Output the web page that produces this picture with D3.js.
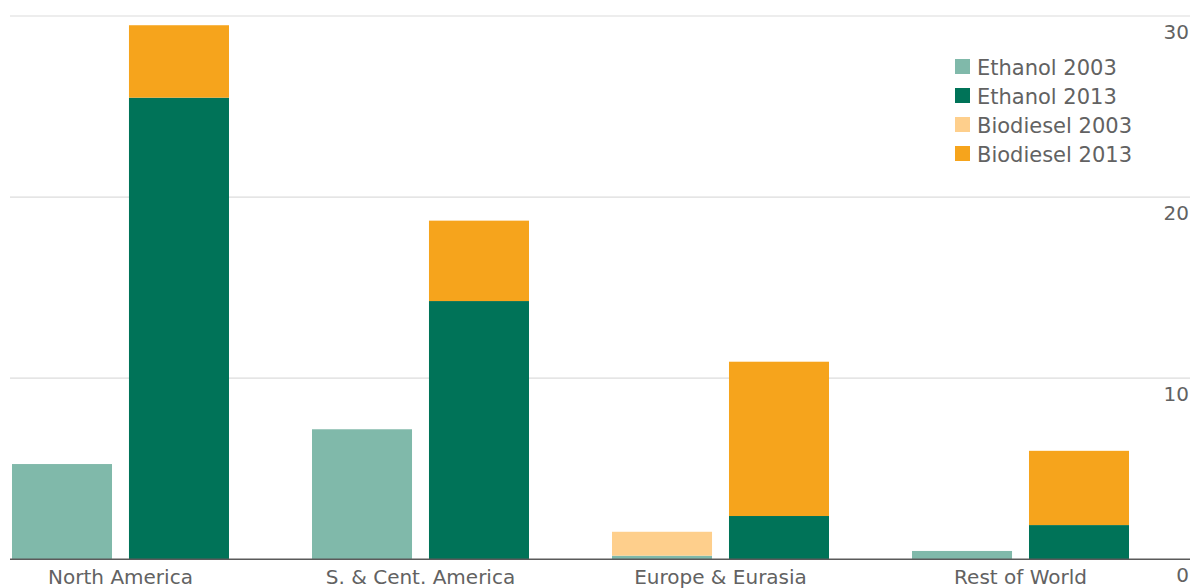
<!DOCTYPE html>
<html>
<head>
<meta charset="utf-8">
<script src="https://cdn.jsdelivr.net/npm/d3@7"></script>
<style>
  html, body { margin: 0; padding: 0; background: #ffffff; }
  svg { display: block; }
  text { font-family: "DejaVu Sans", sans-serif; fill: #626262; }
</style>
</head>
<body>
<svg id="chart" width="1199" height="588"></svg>
<script>
// Biofuel production by region (million tonnes oil equivalent)
const regions = ["North America", "S. & Cent. America", "Europe & Eurasia", "Rest of World"];
const years = ["2003", "2013"];
const ethanol2003 = [5.26, 7.18, 0.2, 0.46];
const ethanol2013 = [25.49, 14.26, 2.39, 1.89];
const biodiesel2003 = [0, 0, 1.32, 0];
const biodiesel2013 = [4.0, 4.44, 8.52, 4.1];
const yTicks = [0, 10, 20, 30];
const legendLabels = ["Ethanol 2003", "Ethanol 2013", "Biodiesel 2003", "Biodiesel 2013"];

const colors = {
  ethanol2003: "#80b9aa",
  ethanol2013: "#007358",
  biodiesel2003: "#fecf8c",
  biodiesel2013: "#f6a41c"
};

const svg = d3.select("#chart");
const gridLeft = 10, gridRight = 1190;

const y = d3.scaleLinear().domain([0, 30]).range([559.3, 16]);

const x0 = d3.scaleBand()
  .domain(regions)
  .range([-29.5, 1170.5])
  .paddingInner(0.2767)
  .paddingOuter(0.1383);

const x1 = d3.scaleBand()
  .domain(years)
  .range([0, x0.bandwidth()])
  .paddingInner(0.145);

// Horizontal gridlines
svg.append("g")
  .selectAll("line")
  .data(yTicks.filter(d => d > 0))
  .join("line")
  .attr("x1", gridLeft).attr("x2", gridRight)
  .attr("y1", d => y(d)).attr("y2", d => y(d))
  .attr("stroke", "#dcdcdc")
  .attr("stroke-width", 1.2);

// Value labels sit just under each gridline, right-aligned
svg.append("g")
  .selectAll("text")
  .data(yTicks)
  .join("text")
  .attr("x", 1189)
  .attr("y", d => y(d) + 23)
  .attr("text-anchor", "end")
  .attr("font-size", 20)
  .text(d => d);

// Stacked bars: ethanol at the bottom, biodiesel on top
const rows = [];
regions.forEach((r, i) => {
  rows.push({ region: r, year: "2003", ethanol: ethanol2003[i], biodiesel: biodiesel2003[i],
              cE: colors.ethanol2003, cB: colors.biodiesel2003 });
  rows.push({ region: r, year: "2013", ethanol: ethanol2013[i], biodiesel: biodiesel2013[i],
              cE: colors.ethanol2013, cB: colors.biodiesel2013 });
});

const bars = svg.append("g")
  .selectAll("g")
  .data(rows)
  .join("g")
  .attr("transform", d => `translate(${x0(d.region) + x1(d.year)},0)`);

bars.append("rect")
  .attr("x", 0)
  .attr("width", x1.bandwidth())
  .attr("y", d => y(d.ethanol))
  .attr("height", d => y(0) - y(d.ethanol))
  .attr("fill", d => d.cE);

bars.append("rect")
  .attr("x", 0)
  .attr("width", x1.bandwidth())
  .attr("y", d => y(d.ethanol + d.biodiesel))
  .attr("height", d => y(d.ethanol) - y(d.ethanol + d.biodiesel))
  .attr("fill", d => d.cB);

// Baseline
svg.append("line")
  .attr("x1", gridLeft).attr("x2", gridRight)
  .attr("y1", y(0)).attr("y2", y(0))
  .attr("stroke", "#5a5a5a")
  .attr("stroke-width", 1.6);

// Region labels
const xAxis = svg.append("g")
  .attr("transform", `translate(0,${y(0)})`)
  .call(d3.axisBottom(x0).tickSize(0).tickPadding(0));
xAxis.select(".domain").remove();
xAxis.selectAll("text")
  .attr("y", 25)
  .attr("dy", 0)
  .attr("font-size", 20)
  .style("font-family", "'DejaVu Sans', sans-serif")
  .style("fill", "#626262");

// Legend
const legend = svg.append("g").attr("transform", "translate(955,59)");
const legendColors = [colors.ethanol2003, colors.ethanol2013, colors.biodiesel2003, colors.biodiesel2013];
const items = legend.selectAll("g")
  .data(legendLabels)
  .join("g")
  .attr("transform", (d, i) => `translate(0,${i * 29})`);
items.append("rect")
  .attr("width", 15).attr("height", 15)
  .attr("fill", (d, i) => legendColors[i]);
items.append("text")
  .attr("x", 22)
  .attr("y", 15.5)
  .attr("font-size", 21)
  .text(d => d);
</script>
</body>
</html>
